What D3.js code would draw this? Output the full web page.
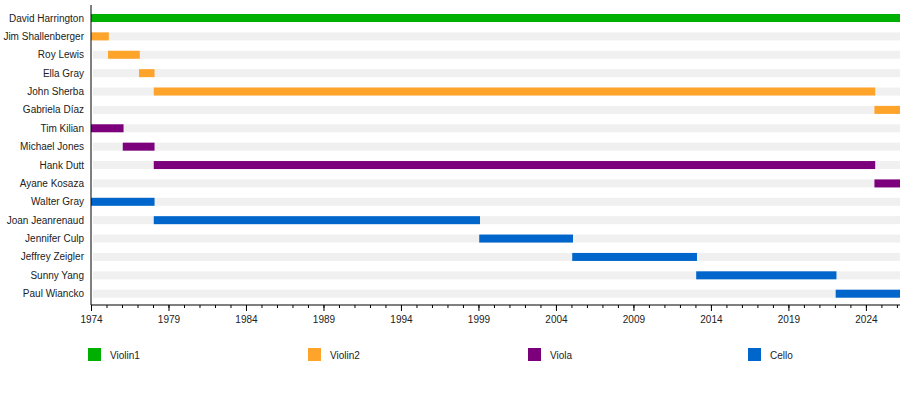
<!DOCTYPE html>
<html>
<head>
<script src="https://cdnjs.cloudflare.com/ajax/libs/d3/7.8.5/d3.min.js"></script>
<style>
  body { margin: 0; background: #fff; }
  svg text { font-family: "Liberation Sans", Arial, sans-serif; font-size: 10px; fill: #222; }
</style>
</head>
<body>
<div id="vis"></div>
<script>
  const w = 900, h = 405;

  // members in display order, with role and years (start, end)
  const members = ["David Harrington", "Jim Shallenberger", "Roy Lewis", "Ella Gray", "John Sherba",
    "Gabriela Díaz", "Tim Kilian", "Michael Jones", "Hank Dutt", "Ayane Kosaza", "Walter Gray",
    "Joan Jeanrenaud", "Jennifer Culp", "Jeffrey Zeigler", "Sunny Yang", "Paul Wiancko"];
  const roles = ["Violin1", "Violin2", "Violin2", "Violin2", "Violin2",
    "Violin2", "Viola", "Viola", "Viola", "Viola", "Cello",
    "Cello", "Cello", "Cello", "Cello", "Cello"];
  const starts = [1974, 1974, 1975.1, 1977.1, 1978.05, 2024.55, 1974, 1976.05, 1978.05, 2024.55, 1974,
    1978.05, 1999.05, 2005.05, 2013.05, 2022.05];
  const ends = [2026.2, 1975.15, 1977.15, 1978.1, 2024.6, 2026.2, 1976.1, 1978.1, 2024.6, 2026.2, 1978.1,
    1999.1, 2005.1, 2013.1, 2022.1, 2026.2];

  const legendNames = ["Violin1", "Violin2", "Viola", "Cello"];
  const legendColors = ["#00b000", "#ffa42b", "#7c007c", "#0066cc"];
  const tickYears = d3.range(1974, 2027, 5);
  const minorYears = d3.range(1974, 2027, 1);

  const svg = d3.select("#vis").append("svg").attr("width", w).attr("height", h);

  const x = d3.scaleLinear().domain([1974, 2026.2]).range([91, 900]);
  const y = d3.scalePoint().domain(members).range([18, 293.7]);
  const color = d3.scaleOrdinal().domain(legendNames).range(legendColors);

  // light background lanes
  svg.append("g").selectAll("rect")
    .data(members)
    .join("rect")
    .attr("x", x(1974) + 2)
    .attr("y", d => y(d) - 4)
    .attr("width", x(2026.2) - x(1974) - 2)
    .attr("height", 8)
    .attr("fill", "#f0f0f0");

  // tenure bars
  svg.append("g").selectAll("rect")
    .data(members)
    .join("rect")
    .attr("x", (d, i) => x(starts[i]))
    .attr("y", d => y(d) - 4)
    .attr("width", (d, i) => x(ends[i]) - x(starts[i]))
    .attr("height", 8)
    .attr("fill", (d, i) => color(roles[i]));

  // names
  svg.append("g").selectAll("text")
    .data(members)
    .join("text")
    .attr("x", 84)
    .attr("y", d => y(d))
    .attr("dy", "0.35em")
    .attr("text-anchor", "end")
    .text(d => d);

  // vertical line
  svg.append("line")
    .attr("x1", 91).attr("x2", 91)
    .attr("y1", 5).attr("y2", 305)
    .attr("stroke", "#000");

  // time axis
  const axisY = 305;
  const minorAxis = svg.append("g")
    .attr("transform", `translate(0,${axisY})`)
    .call(d3.axisBottom(x).tickValues(minorYears).tickSize(3).tickFormat(""));
  minorAxis.select(".domain").remove();
  const xAxis = svg.append("g")
    .attr("transform", `translate(0,${axisY})`)
    .call(d3.axisBottom(x).tickValues(tickYears).tickSize(6).tickSizeOuter(0).tickFormat(d3.format("d")).tickPadding(5));
  xAxis.selectAll("text").style("font-family", "'Liberation Sans', Arial, sans-serif").style("font-size", "10px").attr("fill", "#222");
  xAxis.select(".domain").attr("d", `M${x(1974)},0H${x(2026.2)}`);

  // legend
  const legend = svg.append("g").selectAll("g")
    .data(legendNames)
    .join("g")
    .attr("transform", (d, i) => `translate(${88 + i * 220},348)`);
  legend.append("rect")
    .attr("width", 13).attr("height", 13)
    .attr("fill", d => color(d));
  legend.append("text")
    .attr("x", 22).attr("y", 7)
    .attr("dy", "0.35em")
    .text(d => d);
</script>
</body>
</html>
